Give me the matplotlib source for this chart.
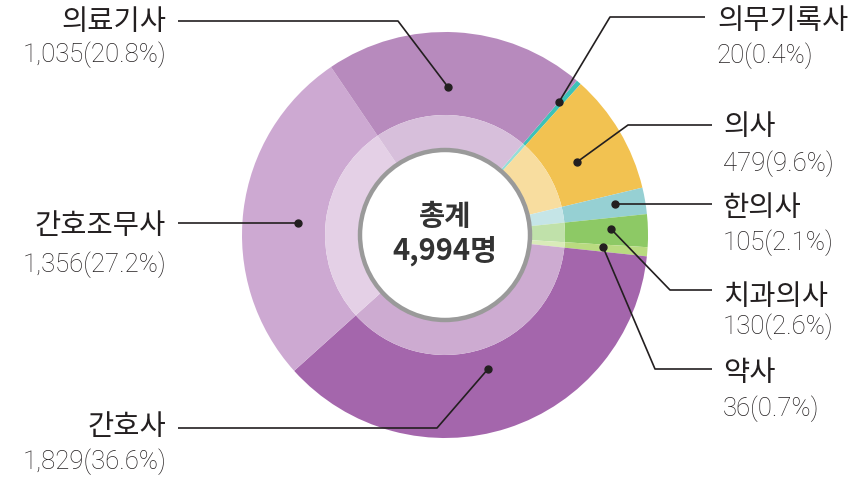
import matplotlib
matplotlib.use("Agg")
import matplotlib.pyplot as plt
from matplotlib.colors import to_rgb
from matplotlib.patches import Circle

plt.rcParams['font.family'] = ['Noto Sans CJK KR', 'DejaVu Sans']

# Data (clockwise from the thin teal slice at upper right)
names = ['의무기록사', '의사', '한의사', '치과의사', '약사', '간호사', '간호조무사', '의료기사']
counts = [20, 479, 105, 130, 36, 1829, 1356, 1035]
pct_labels = ['0.4%', '9.6%', '2.1%', '2.6%', '0.7%', '36.6%', '27.2%', '20.8%']
total_label = '4,994명'
colors = ['#3DC2B8', '#F2C251', '#96D0D3', '#8DC965', '#B9DB80', '#A466AC', '#CDA9D2', '#B78ABD']

W, H = 855, 479
def Y(p):
    return H - p

fig = plt.figure(figsize=(W / 100, H / 100), dpi=100)
ax = fig.add_axes([0, 0, 1, 1])

cx, cy = 445, Y(235)
R_out, R_mid, R_in = 203, 120, 87
start = 49.5

def lighten(c, a=0.45):
    r, g, b = to_rgb(c)
    return (r + (1 - r) * a, g + (1 - g) * a, b + (1 - b) * a)

ax.pie(counts, radius=R_out, center=(cx, cy), startangle=start, counterclock=False,
       colors=colors, wedgeprops=dict(width=R_out - R_mid, linewidth=0))
ax.pie(counts, radius=R_mid, center=(cx, cy), startangle=start, counterclock=False,
       colors=[lighten(c) for c in colors], wedgeprops=dict(width=R_mid - R_in + 2, linewidth=0))
ax.add_patch(Circle((cx, cy), R_in - 2, facecolor='white', edgecolor='#9a9a9a', linewidth=3.2, zorder=5))

ax.text(cx, Y(217), '총계', ha='center', va='center', fontsize=20.5, fontweight='bold', color='#333333', zorder=6)
ax.text(cx, Y(252), total_label, ha='center', va='center', fontsize=21, fontweight='bold', color='#333333', zorder=6)

# Leader lines: (dot point, corner point, end point) in pixel coords
leaders = {
    '의무기록사': [(559, 102), (610, 17), (705, 17)],
    '의사': [(577, 162), (628, 125), (712, 125)],
    '한의사': [(615, 204), (615, 204), (712, 204)],
    '치과의사': [(611, 229), (670, 290), (712, 290)],
    '약사': [(603, 247), (655, 369), (712, 369)],
    '간호사': [(488, 369), (437, 428), (178, 428)],
    '간호조무사': [(298, 223), (298, 223), (178, 223)],
    '의료기사': [(448, 87), (398, 21), (178, 21)],
}
for nm in names:
    pts = leaders[nm]
    xs = [p[0] for p in pts]
    ys = [Y(p[1]) for p in pts]
    ax.plot(xs, ys, color='#231f20', linewidth=1.2, zorder=7, solid_capstyle='butt')
    ax.plot(xs[0], ys[0], 'o', color='#231f20', markersize=5, zorder=8)

# Label positions: (x, name_y, num_y, ha)
label_pos = {
    '의무기록사': (717, 21, 56, 'left'),
    '의사': (723, 127, 164, 'left'),
    '한의사': (723, 208, 243, 'left'),
    '치과의사': (723, 297, 327, 'left'),
    '약사': (723, 373, 409, 'left'),
    '간호사': (166, 427, 462, 'right'),
    '간호조무사': (166, 226, 265, 'right'),
    '의료기사': (166, 22, 55, 'right'),
}
for nm, c, p in zip(names, counts, pct_labels):
    x, ny, my, ha = label_pos[nm]
    ax.text(x, Y(ny), nm, ha=ha, va='center', fontsize=20.5, color='#231f20')
    ax.text(x, Y(my), f'{c:,}({p})', ha=ha, va='center', fontsize=18.5,
            family=['Roboto', 'DejaVu Sans'], fontweight='light', color='#231f20')

ax.set_xlim(0, W)
ax.set_ylim(0, H)
ax.set_aspect('equal')
ax.axis('off')
fig.savefig('out.png', dpi=100)
